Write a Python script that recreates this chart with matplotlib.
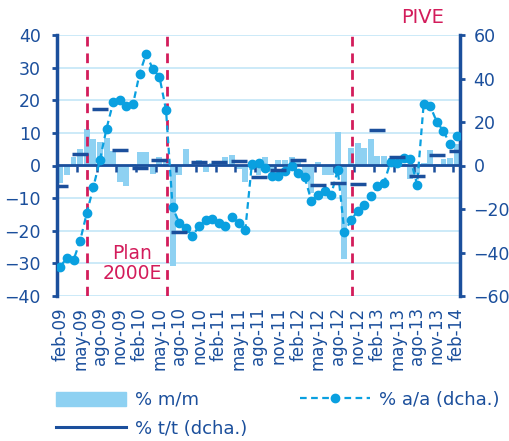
import numpy as np
import matplotlib
matplotlib.use('Agg')
import matplotlib.pyplot as plt
from matplotlib.lines import Line2D
from matplotlib.patches import Patch

# monthly data feb-09 .. feb-14
mm = [-5.5, -3.0, 2.6, 5.1, 11.3, 8.2, 7.2, 8.5, 4.5, -5.1,
      -6.2, 0.5, 4.1, 4.0, -2.6, 2.5, 1.5, -30.8, -3.0, 5.1,
      0.5, 1.6, -2.0, 0.8, 1.0, 2.6, 3.2, -1.0, -5.1, -1.5,
      -3.0, 2.6, -2.0, 1.7, 1.7, 2.6, 1.0, -2.5, -8.5, 1.0,
      -3.0, -3.0, 10.4, -28.7, 5.4, 7.0, 5.4, 8.0, 2.9, 2.9,
      2.3, 0.8, 0.6, -4.0, -2.5, 0.8, 4.8, 0.5, 2.1, 2.4,
      6.7]
aa = [-46.6, -42.3, -43.5, -34.6, -22.0, -10.0, 2.6, 17.0, 29.0, 30.2,
      27.2, 28.1, 42.2, 51.4, 44.3, 40.9, 25.6, -19.2, -26.4, -28.8,
      -32.3, -28.0, -25.0, -24.5, -26.6, -27.7, -23.5, -26.6, -29.6, 0.8,
      1.0, -1.3, -4.6, -4.7, -2.3, 0.0, -3.5, -5.5, -16.2, -13.4,
      -11.5, -13.4, -2.0, -30.6, -25.2, -20.9, -18.0, -14.0, -9.5, -8.0,
      1.8, 1.0, 3.6, 3.1, -8.8, 28.2, 27.2, 20.0, 15.8, 9.7,
      13.5]
# quarterly, every third month starting feb-09
tt = [-9.2, 5.4, 26.2, 6.9, -1.1, 2.6, -30.7, 1.5, 1.5, 2.0,
      -5.5, -2.0, 2.3, -8.9, -7.9, -8.5, 16.5, 3.7, -4.9, 4.8,
      6.8]
tick_labels = ['feb-09', 'may-09', 'ago-09', 'nov-09', 'feb-10', 'may-10', 'ago-10',
               'nov-10', 'feb-11', 'may-11', 'ago-11', 'nov-11', 'feb-12', 'may-12',
               'ago-12', 'nov-12', 'feb-13', 'may-13', 'ago-13', 'nov-13', 'feb-14']
plan_start, plan_end, pive_start = 4.0, 16.1, 44.2

navy = '#1b4f9c'
light = '#8ed1f2'
cyan = '#0aa0e0'
red = '#d31c5b'

plt.rcParams['font.family'] = 'DejaVu Sans'

fig = plt.figure(figsize=(5.1, 4.41), dpi=100)
ax = fig.add_axes([57 / 510, 1 - 296 / 441, 403 / 510, 261 / 441])
ax2 = ax.twinx()

x = np.arange(len(mm))
xq = x[::3]

ax.bar(x, mm, width=0.9, color=light, zorder=2)
ax.set_xlim(-0.5, len(mm) - 0.5)
ax.set_ylim(-40, 40)
ax.set_yticks(range(-40, 41, 10))
ax.grid(axis='y', color='#c8e8f8', lw=1.3)
ax.set_axisbelow(True)

ax2.set_ylim(-60, 60)
ax2.set_yticks(range(-60, 61, 20))
for xv in (plan_start, plan_end, pive_start):
    ax2.axvline(xv, color=red, lw=2, ls=(0, (3.5, 2.5)), zorder=1)
ax2.plot(x, aa, color=cyan, lw=1.6, ls=(0, (3, 2)), marker='o', ms=6, zorder=3)
ax2.plot(xq, tt, color=navy, ls='none', marker='_', ms=11, mew=2.5, zorder=4)

for s in ('top', 'bottom', 'right'):
    ax.spines[s].set_visible(False)
for s in ('top', 'bottom', 'left'):
    ax2.spines[s].set_visible(False)
ax.spines['left'].set_color(navy)
ax.spines['left'].set_linewidth(2.5)
ax2.spines['right'].set_color(navy)
ax2.spines['right'].set_linewidth(2.5)

ax.tick_params(axis='y', colors=navy, length=3.7, width=2, labelsize=12.5, pad=8)
ax2.tick_params(axis='y', colors=navy, length=3.7, width=2, labelsize=12.5, pad=6)
ax.set_xticks(xq)
ax.set_xticklabels(tick_labels, rotation=90, color=navy, fontsize=12)
ax.tick_params(axis='x', length=0, pad=8)

# zero line with ticks between quarters
sec = ax.secondary_xaxis(0.5)
sec.set_zorder(5)
sec.set_xticks(np.arange(2.5, len(mm) - 1, 3))
sec.xaxis.set_ticks_position('bottom')
sec.tick_params(axis='x', direction='out', length=4, width=1.8, color=navy, labelbottom=False, labeltop=False)
for s in ('top', 'bottom'):
    sec.spines[s].set_color(navy)
    sec.spines[s].set_linewidth(2)

ax.text(10.85, -30, 'Plan\n2000E', color=red, fontsize=13.5, ha='center', va='center', linespacing=1.05)
ax.text(54.9, 45.5, 'PIVE', color=red, fontsize=14, ha='center', va='center', clip_on=False)

handles = [Patch(color=light),
           Line2D([], [], color=navy, lw=2.2),
           Line2D([], [], color=cyan, lw=1.6, ls=(0, (3, 2)), marker='o', ms=6)]
labels = ['% m/m', '% t/t (dcha.)', '% a/a (dcha.)']
leg = fig.legend(handles, labels, loc='upper left', bbox_to_anchor=(0.095, 0.13), ncol=2,
                 frameon=False, fontsize=13, handlelength=3.9, handleheight=0.8,
                 columnspacing=2.9, handletextpad=0.5, labelspacing=0.6, borderaxespad=0)
for t in leg.get_texts():
    t.set_color(navy)

fig.savefig('out.png', dpi=100)
